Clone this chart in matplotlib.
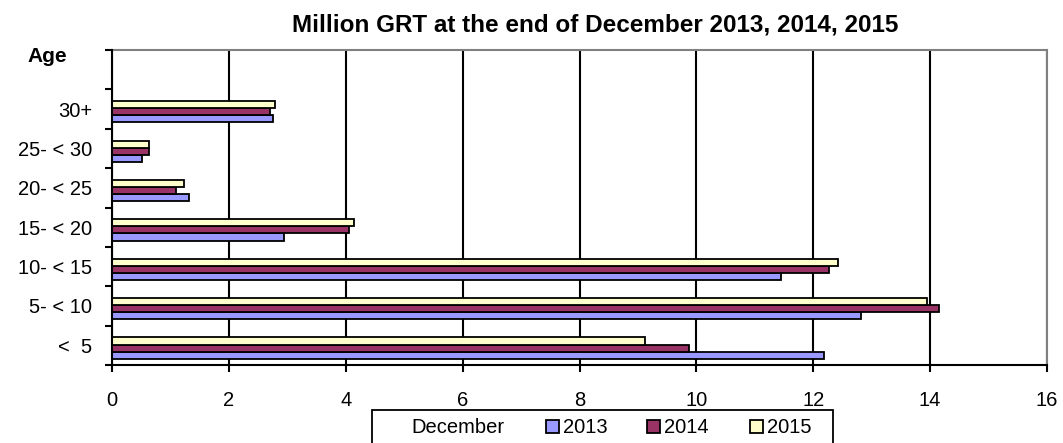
import matplotlib
matplotlib.use("Agg")
import matplotlib.pyplot as plt
from matplotlib.patches import Rectangle
import numpy as np

plt.rcParams['font.family'] = ['Liberation Sans', 'DejaVu Sans']

categories = ["<  5", "5- < 10", "10- < 15", "15- < 20", "20- < 25", "25- < 30", "30+"]
years = ["2013", "2014", "2015"]
v2013 = [12.18, 12.81, 11.45, 2.95, 1.32, 0.51, 2.75]
v2014 = [9.87, 14.15, 12.27, 4.05, 1.09, 0.64, 2.71]
v2015 = [9.12, 13.94, 12.43, 4.14, 1.23, 0.63, 2.79]
series = [v2013, v2014, v2015]
colors = ["#9999FF", "#993366", "#FFFFCC"]
title = "Million GRT at the end of December 2013, 2014, 2015"
xticks = [0, 2, 4, 6, 8, 10, 12, 14, 16]

FS = 14.5
W, H = 1063, 443
fig = plt.figure(figsize=(W / 100, H / 100), dpi=100)
ax = fig.add_axes([112 / W, 1 - 365 / H, (1047 - 112) / W, (365 - 50) / H])

y = np.arange(len(categories))
bh = 0.18
for i, (vals, c) in enumerate(zip(series, colors)):
    ax.barh(y + (i - 1) * bh - 0.07, vals, height=bh, color=c,
            edgecolor="black", linewidth=1.3, zorder=3)

ax.set_xlim(0, 16)
ax.set_ylim(-0.5, len(categories) + 0.5)
ax.set_xticks(xticks)
ax.set_xticklabels([str(t) for t in xticks], fontsize=FS)
ax.tick_params(axis="x", direction="out", length=5, width=1.5, pad=14, colors="black")
ax.set_yticks(np.arange(-0.5, len(categories) + 1, 1.0))
ax.set_yticklabels([])
ax.tick_params(axis="y", which="major", direction="out", length=5, width=1.5)
ax.set_yticks(y, minor=True)
ax.set_yticklabels(categories, minor=True, fontsize=FS)
ax.tick_params(axis="y", which="minor", length=0, pad=14.5)

ax.grid(axis="x", color="black", linewidth=1.5, zorder=1)
ax.set_axisbelow(True)
for s in ["left", "bottom"]:
    ax.spines[s].set_color("black")
    ax.spines[s].set_linewidth(1.5)
for s in ["top", "right"]:
    ax.spines[s].set_color("#808080")
    ax.spines[s].set_linewidth(1.5)
ax.spines["left"].set_zorder(4)

fig.text(595 / W, 1 - 31.5 / H, title, ha="center", va="baseline",
         fontsize=17.5, fontweight="bold")
fig.text(47 / W, 1 - 62.5 / H, "Age", ha="center", va="baseline",
         fontsize=15, fontweight="bold")

# legend box (manual, bottom cut off like the reference)
fig.patches.append(Rectangle((372 / W, 1 - 460 / H), (833 - 372) / W, 50 / H,
                             transform=fig.transFigure, facecolor="white",
                             edgecolor="black", linewidth=1.3))
lb = 1 - 433 / H
fig.text(411 / W, lb, "December", ha="left", va="baseline", fontsize=FS)
for x0, lab, c in zip([546, 647, 750], years, colors):
    fig.patches.append(Rectangle((x0 / W, 1 - 433 / H), 13 / W, 13 / H,
                                 transform=fig.transFigure, facecolor=c,
                                 edgecolor="black", linewidth=1.3))
    fig.text((x0 + 17) / W, lb, lab, ha="left", va="baseline", fontsize=FS)

fig.savefig("out.png", dpi=100)
